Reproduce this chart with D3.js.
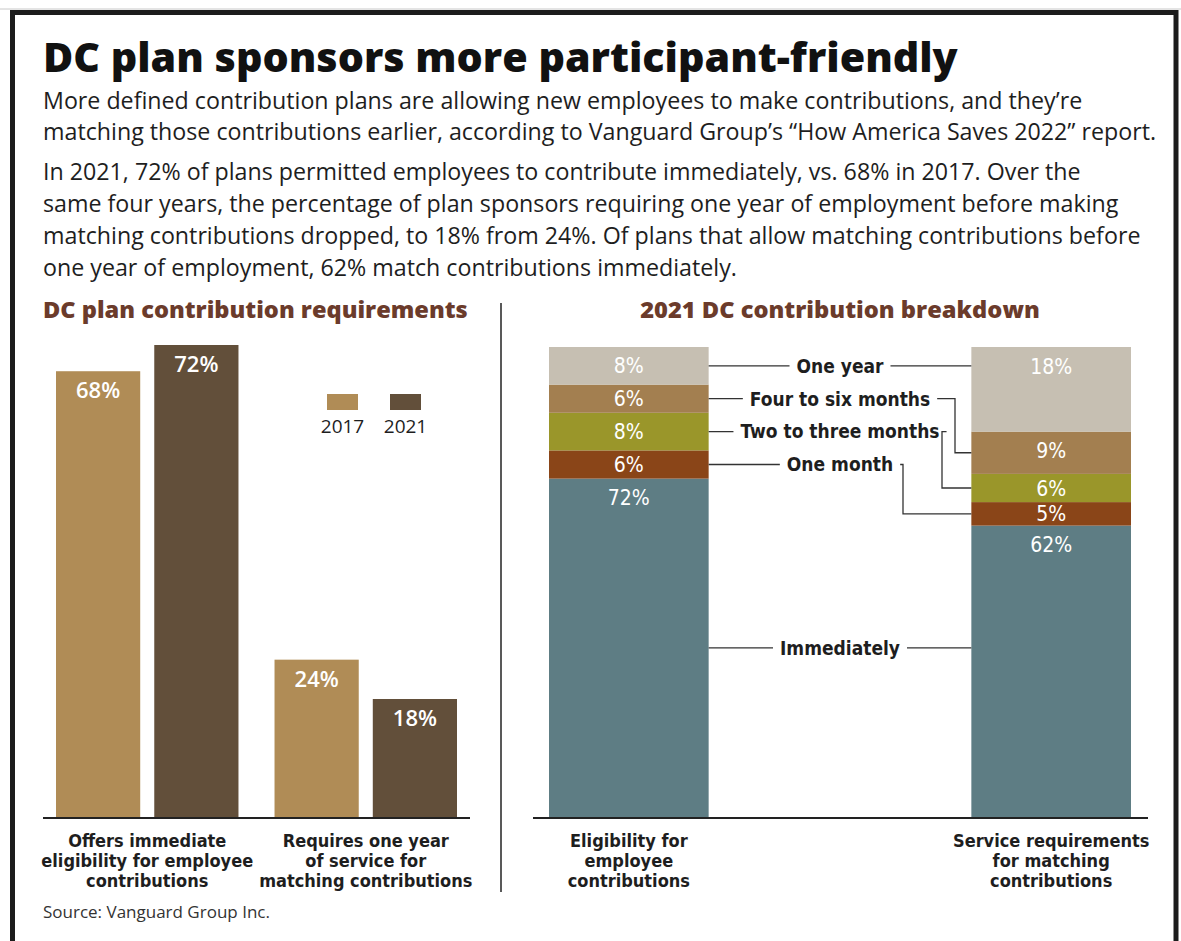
<!DOCTYPE html>
<html>
<head>
<meta charset="utf-8">
<script src="https://cdn.jsdelivr.net/npm/d3@7"></script>
<style>
  html, body { margin: 0; padding: 0; background: #fff; }
  svg { display: block; }
  .body { font-family: "Open Sans", "Liberation Sans", sans-serif; fill: #1e1e1e; }
  .heavy { font-family: "Open Sans", "DejaVu Sans", sans-serif; font-weight: 800; }
  .narrow { font-family: "Liberation Sans Narrow", "DejaVu Sans Condensed", sans-serif; font-weight: bold; fill: #1e1e1e; }
</style>
</head>
<body>
<div id="graph"></div>
<script>
var title = 'DC plan sponsors more participant-friendly'
var intro = [
  ['More defined contribution plans are allowing new employees to make contributions, and they\u2019re',
   'matching those contributions earlier, according to Vanguard Group\u2019s \u201cHow America Saves 2022\u201d report.'],
  ['In 2021, 72% of plans permitted employees to contribute immediately, vs. 68% in 2017. Over the',
   'same four years, the percentage of plan sponsors requiring one year of employment before making',
   'matching contributions dropped, to 18% from 24%. Of plans that allow matching contributions before',
   'one year of employment, 62% match contributions immediately.']
]
var source = 'Source: Vanguard Group Inc.'

// left chart
var leftTitle = 'DC plan contribution requirements'
var groups = [
  ['Offers immediate', 'eligibility for employee', 'contributions'],
  ['Requires one year', 'of service for', 'matching contributions']
]
var years = ['2017', '2021']
var values2017 = [68, 24]
var values2021 = [72, 18]
var yearColors = ['#b08c56', '#624f3a']

// right chart
var rightTitle = '2021 DC contribution breakdown'
var stacks = [
  ['Eligibility for', 'employee', 'contributions'],
  ['Service requirements', 'for matching', 'contributions']
]
var categories = ['Immediately', 'One month', 'Two to three months', 'Four to six months', 'One year']
var eligibility = [72, 6, 8, 6, 8]
var service = [62, 5, 6, 9, 18]
var catColors = ['#5e7d84', '#8a4518', '#9a962a', '#a37f50', '#c6bfb2']

var W = 1181, H = 941
var svg = d3.select('#graph').append('svg').attr('width', W).attr('height', H)

// scale a text's font size so it spans a given width
function fit(sel, target) {
  var w = sel.node().getComputedTextLength()
  var fs = parseFloat(sel.style('font-size'))
  var size = fs * target / w
  sel.style('font-size', size + 'px')
  return size
}

// frame
svg.append('line').attr('x1', 0).attr('x2', W).attr('y1', 9).attr('y2', 9)
  .attr('stroke', '#c8c8c8').attr('stroke-width', 1)
svg.append('path')
  .attr('d', 'M12.5 941 V12.5 H1176 V941')
  .attr('fill', 'none').attr('stroke', '#1c1c1c').attr('stroke-width', 5)

// title + intro
var t = svg.append('text').attr('class', 'heavy')
  .attr('x', 43).attr('y', 72)
  .style('font-size', '42px').style('fill', '#111')
  .text(title)
fit(t, 915)

var lineY = [[109, 140], [180, 212, 244, 276]]
var introSize = 20
intro.forEach((para, i) => {
  var sel = svg.selectAll(null).data(para).enter().append('text')
    .attr('class', 'body')
    .attr('x', 43).attr('y', (d, j) => lineY[i][j])
    .style('font-size', '20px')
    .text(d => d)
  if (i === 0) introSize = fit(d3.select(sel.nodes()[0]), 1040)
  sel.style('font-size', introSize + 'px')
})

var src = svg.append('text').attr('class', 'body')
  .attr('x', 43).attr('y', 918)
  .style('font-size', '15px').style('fill', '#333')
  .text(source)
fit(src, 227)

// divider
svg.append('line').attr('x1', 501).attr('x2', 501).attr('y1', 303).attr('y2', 892)
  .attr('stroke', '#222').attr('stroke-width', 1.5)

// ---------- left chart ----------
var base = 817
var headColor = '#6b3b2b'
var h1 = svg.append('text').attr('class', 'heavy')
  .attr('x', 43).attr('y', 318)
  .style('font-size', '21px').style('fill', headColor)
  .text(leftTitle)
fit(h1, 425)

var x0 = d3.scaleBand().domain(d3.range(groups.length)).range([56, 457]).paddingInner(0.165)
var x1 = d3.scaleBand().domain(years).range([0, x0.bandwidth()]).paddingInner(0.143)
var yL = d3.scaleLinear().domain([0, 72]).range([base, 345])

var leftData = []
groups.forEach((g, i) => {
  leftData.push({g: i, year: '2017', v: values2017[i], c: yearColors[0]})
  leftData.push({g: i, year: '2021', v: values2021[i], c: yearColors[1]})
})

var lg = svg.append('g')
lg.selectAll('rect').data(leftData).enter().append('rect')
  .attr('x', d => x0(d.g) + x1(d.year))
  .attr('y', d => yL(d.v))
  .attr('width', x1.bandwidth())
  .attr('height', d => base - yL(d.v))
  .attr('fill', d => d.c)

lg.selectAll('text.val').data(leftData).enter().append('text')
  .attr('class', 'body val')
  .attr('x', d => x0(d.g) + x1(d.year) + x1.bandwidth() / 2)
  .attr('y', d => yL(d.v) + 27)
  .attr('text-anchor', 'middle')
  .style('font-size', '22px').style('font-weight', 600).style('fill', '#fff')
  .text(d => d.v + '%')

lg.append('line').attr('x1', 43).attr('x2', 470).attr('y1', base + 1).attr('y2', base + 1)
  .attr('stroke', '#222').attr('stroke-width', 2)

groups.forEach((lines, i) => {
  lg.selectAll(null).data(lines).enter().append('text')
    .attr('class', 'narrow')
    .attr('x', x0(i) + x0.bandwidth() / 2)
    .attr('y', (d, j) => 847 + j * 20)
    .attr('text-anchor', 'middle')
    .style('font-size', '18px')
    .text(d => d)
})

// legend
var leg = lg.selectAll('g.leg').data(years).enter().append('g')
  .attr('transform', (d, i) => 'translate(' + (327 + i * 63) + ',394)')
leg.append('rect').attr('width', 31).attr('height', 16).attr('fill', (d, i) => yearColors[i])
leg.append('text').attr('class', 'body')
  .attr('x', 15.5).attr('y', 39).attr('text-anchor', 'middle')
  .style('font-size', '19px').style('font-weight', 500)
  .text(d => d)

// ---------- right chart ----------
var h2 = svg.append('text').attr('class', 'heavy')
  .attr('x', 840).attr('y', 318).attr('text-anchor', 'middle')
  .style('font-size', '21px').style('fill', headColor)
  .text(rightTitle)
fit(h2, 400)

var xs = d3.scaleBand().domain(d3.range(stacks.length)).range([549, 1131]).paddingInner(0.622)
var yR = d3.scaleLinear().domain([0, 100]).range([base, 347])

var series = d3.stack().keys(d3.range(categories.length))(
  [eligibility, service].map(arr => Object.assign({}, arr))
)

var rg = svg.append('g')
var segs = []
series.forEach((s, k) => {
  s.forEach((d, i) => {
    segs.push({k: k, i: i, y0: d[0], y1: d[1], v: d[1] - d[0]})
  })
})

rg.selectAll('rect').data(segs).enter().append('rect')
  .attr('x', d => xs(d.i))
  .attr('y', d => yR(d.y1))
  .attr('width', xs.bandwidth())
  .attr('height', d => yR(d.y0) - yR(d.y1))
  .attr('fill', d => catColors[d.k])

rg.selectAll('text.val').data(segs).enter().append('text')
  .attr('class', 'narrow')
  .attr('x', d => xs(d.i) + xs.bandwidth() / 2)
  .attr('y', d => Math.min((yR(d.y0) + yR(d.y1)) / 2, yR(d.y1) + 19))
  .attr('dy', '0.36em')
  .attr('text-anchor', 'middle')
  .style('font-size', '21px').style('font-weight', 'normal').style('fill', '#fff')
  .text(d => d.v + '%')

rg.append('line').attr('x1', 533).attr('x2', 1148).attr('y1', base + 1).attr('y2', base + 1)
  .attr('stroke', '#222').attr('stroke-width', 2)

stacks.forEach((lines, i) => {
  rg.selectAll(null).data(lines).enter().append('text')
    .attr('class', 'narrow')
    .attr('x', xs(i) + xs.bandwidth() / 2)
    .attr('y', (d, j) => 847 + j * 20)
    .attr('text-anchor', 'middle')
    .style('font-size', '18px')
    .text(d => d)
})

// connector labels between the two stacks
var elbowX = {'One month': 903, 'Two to three months': 942, 'Four to six months': 955}
var leftEdge = xs(0) + xs.bandwidth(), rightEdge = xs(1)
var midX = (leftEdge + rightEdge) / 2
var mid = d => (yR(d[0]) + yR(d[1])) / 2

categories.forEach((cat, k) => {
  var a = series[k][0], b = series[k][1]
  var yl = mid(a), yr = mid(b)
  var lab = rg.append('text').attr('class', 'narrow')
    .attr('x', midX).attr('y', yl).attr('dy', '0.36em').attr('text-anchor', 'middle')
    .style('font-size', '19px')
    .text(cat)
  var w = lab.node().getComputedTextLength()
  var tx0 = midX - w / 2 - 7, tx1 = midX + w / 2 + 7
  var p = d3.path()
  p.moveTo(leftEdge, yl); p.lineTo(tx0, yl)
  p.moveTo(tx1, yl)
  var inside = yl >= yR(b[1]) && yl <= yR(b[0])
  if (inside) {
    p.lineTo(rightEdge, yl)
  } else {
    var ex = elbowX[cat]
    p.lineTo(ex, yl); p.lineTo(ex, yr); p.lineTo(rightEdge, yr)
  }
  rg.append('path').attr('d', p.toString())
    .attr('fill', 'none').attr('stroke', '#333').attr('stroke-width', 1.3)
})
</script>
</body>
</html>
